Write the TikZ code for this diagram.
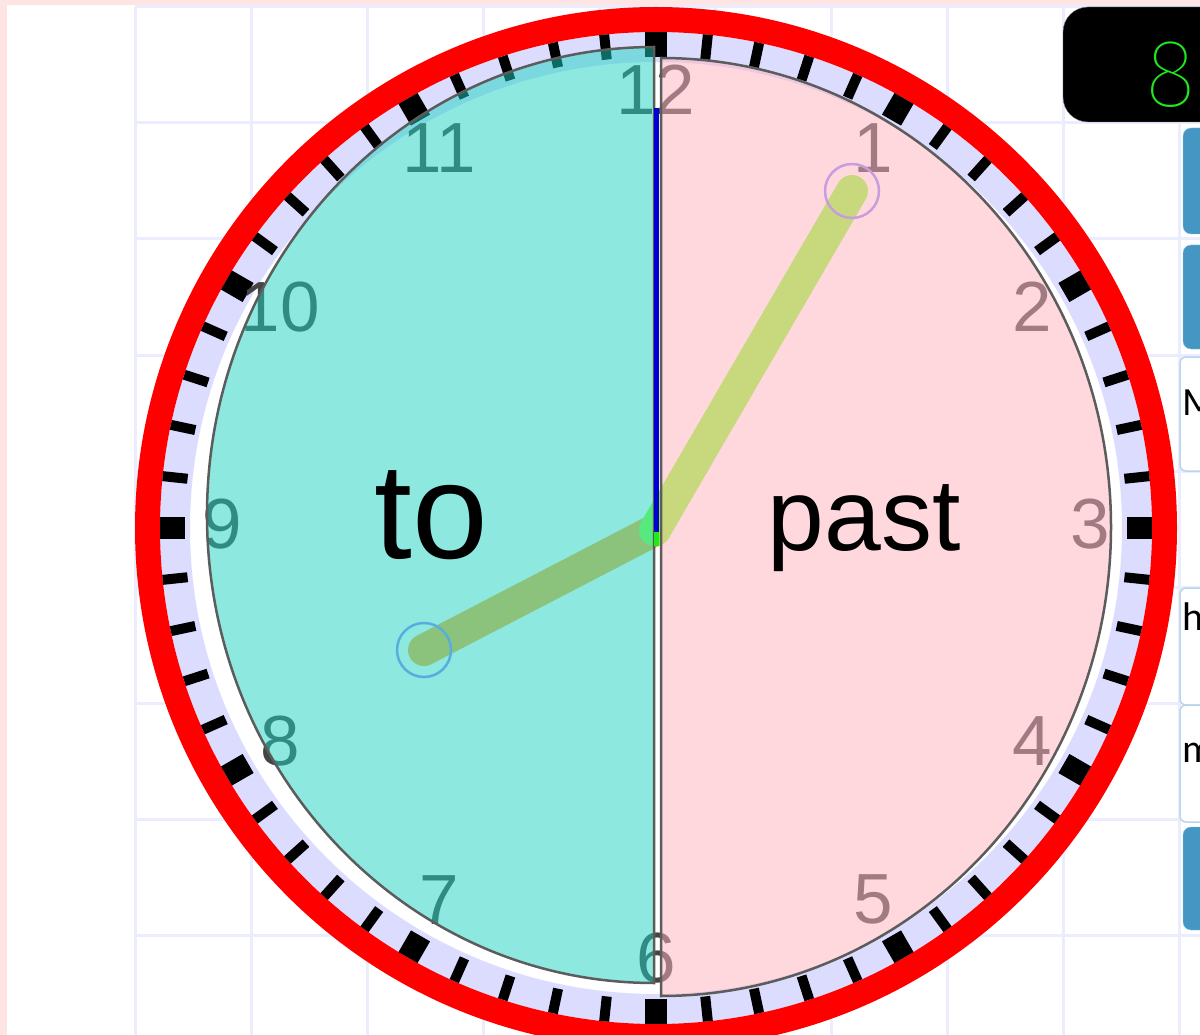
\documentclass[tikz,border=0pt]{standalone}
\usepackage{fontspec}
\setmainfont{Liberation Sans}
\newfontfamily\panelfont{Carlito}
\newfontfamily\digitfont{Fira Sans Thin}
\usetikzlibrary{calc}

\definecolor{framepink}{RGB}{255,228,228}
\definecolor{gridline}{RGB}{236,236,255}
\definecolor{bandlav}{RGB}{220,220,255}
\definecolor{numgray}{RGB}{68,68,68}
\definecolor{tealhalf}{RGB}{29,213,193}
\definecolor{pinkhalf}{RGB}{255,179,191}
\definecolor{edgegray}{RGB}{92,92,92}
\definecolor{hourhandc}{RGB}{250,178,58}
\definecolor{minhandc}{RGB}{145,255,60}
\definecolor{tipviolet}{RGB}{145,135,255}
\definecolor{secblue}{RGB}{0,0,210}
\definecolor{ledgreen}{RGB}{30,235,30}
\definecolor{btntop}{RGB}{70,150,195}
\definecolor{btnmid}{RGB}{5,108,168}
\definecolor{btnedge}{RGB}{140,195,228}
\definecolor{boxedge}{RGB}{185,212,236}

\begin{document}
\begin{tikzpicture}[x=1pt, y=-1pt,
    digit/.style={font=\fontsize{71}{71}\selectfont, text=numgray, inner sep=0pt},
    faceline/.style={draw=edgegray, line width=2.5pt},
    hand/.style={line width=32pt, line cap=round},
    tipring/.style={draw=tipviolet, line width=2.5pt},
    panelbtn/.style={rounded corners=8pt, draw=btnedge, top color=btntop, middle color=btnmid, bottom color=btntop},
    panelbox/.style={rounded corners=6pt, draw=boxedge, fill=white, line width=1.5pt},
    panelchar/.style={font=\panelfont\fontsize{40}{40}\selectfont, inner sep=0pt, anchor=base west}]
    \useasboundingbox (0,0) rectangle (1200,1035);

    % Define coordinates
    \coordinate (ringc) at (656,528);
    \coordinate (dialc) at (656,524);
    \coordinate (pivot) at (655,530);
    \coordinate (hourtip) at (424,650);
    \coordinate (mintip) at (852,191);
    \coordinate (sectop) at (656,108);
    \coordinate (secend) at (656,532);
    \coordinate (dotend) at (656,546);

    % Page and grid
    \fill[framepink] (0,0) rectangle (1200,1035);
    \fill[white] (7,5) rectangle (1200,1035);
    \foreach \k in {0,...,9}
        \draw[gridline, line width=3pt] (135+116*\k,7) -- (135+116*\k,1035);
    \foreach \k in {0,...,8}
        \draw[gridline, line width=3pt] (135,7+116*\k) -- (1200,7+116*\k);

    % Draw the rim
    \fill[white] (ringc) circle[radius=521];
    \draw[bandlav, line width=30pt] (ringc) circle[radius=481];
    \draw[red, line width=25pt] (ringc) circle[radius=508.5];
    \foreach \m in {0,...,59} {
        \pgfmathsetmacro{\tickw}{ifthenelse(mod(\m,5)==0,22,10)}
        \draw[line width=\tickw pt] ($(ringc)+({6*\m}:471)$) -- ($(ringc)+({6*\m}:496)$);
    }

    % Hour numbers
    \foreach \h in {1,...,12}
        \node[digit] (num\h) at ($(dialc)+({-90+30*\h}:434)$) {\h};

    % Draw hands (under the halves)
    \draw[hand, hourhandc] (pivot) -- (hourtip);
    \draw[hand, minhandc] (pivot) -- (mintip);
    \draw[tipring] (hourtip) circle[radius=27];
    \draw[tipring] (mintip) circle[radius=27];

    % Draw the two halves
    \fill[tealhalf, fill opacity=0.5] (654,47) arc[start angle=270, end angle=90, x radius=447, y radius=468] -- cycle;
    \fill[pinkhalf, fill opacity=0.5] (661,58) arc[start angle=-90, end angle=90, x radius=450, y radius=469] -- cycle;
    \draw[faceline] (654,47) arc[start angle=270, end angle=90, x radius=447, y radius=468] -- cycle;
    \draw[faceline] (661,58) arc[start angle=-90, end angle=90, x radius=450, y radius=469] -- cycle;

    \node[font=\fontsize{136}{136}\selectfont, inner sep=0pt, anchor=base] (tolabel) at (431,558) {to};
    \node[font=\fontsize{102}{102}\selectfont, inner sep=0pt, anchor=base] (pastlabel) at (864,550) {past};

    % Second line
    \draw[secblue, line width=5pt] (sectop) -- (secend);
    \draw[ledgreen, line width=5pt] (secend) -- (dotend);

    % Side panel
    \draw[fill=black, draw=gray, rounded corners=25pt] (1063,7) rectangle (1240,122);
    \node[font=\digitfont\fontsize{96}{96}\selectfont, text=ledgreen, inner sep=0pt] (hourled) at (1171,75) {8};
    \draw[panelbtn] (1183,128) rectangle (1230,234);
    \draw[panelbtn] (1183,245) rectangle (1230,349);
    \draw[panelbox] (1180,357) rectangle (1230,471);
    \node[panelchar] (mchar) at (1182,415) {M};
    \draw[panelbox] (1180,588) rectangle (1230,705);
    \node[panelchar] (hchar) at (1182,630) {h};
    \draw[panelbox] (1180,705) rectangle (1230,822);
    \node[panelchar] (minchar) at (1182,762) {m};
    \draw[panelbtn] (1183,827) rectangle (1230,930);
\end{tikzpicture}
\end{document}
